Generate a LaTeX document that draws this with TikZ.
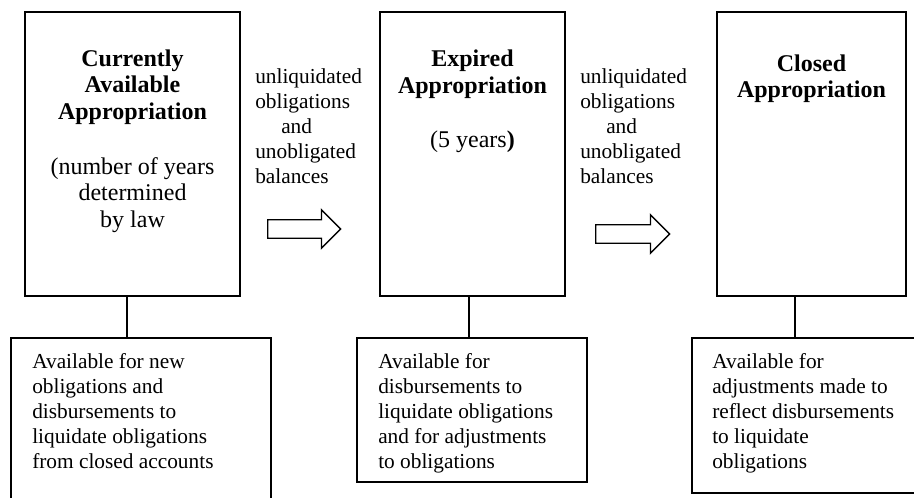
\documentclass[tikz,border=0pt]{standalone}
\usepackage{fontspec}
\setmainfont{Liberation Serif}
\usetikzlibrary{positioning,shapes.arrows}

\tikzset{
  approp/.style={draw, line width=1.3pt, minimum height=213pt, inner sep=0pt, outer sep=0pt},
  notebox/.style={draw, line width=1.3pt, inner sep=0pt, outer sep=0pt},
  title/.style={align=center, inner sep=0pt, font=\fontsize{18}{20}\selectfont},
  notetext/.style={align=left, inner sep=0pt, font=\fontsize{16}{18.75}\selectfont},
  flowlabel/.style={align=left, inner sep=0pt, font=\fontsize{16}{18.75}\selectfont},
  flowarrow/.style={single arrow, draw, line width=1pt, inner xsep=0pt, inner ysep=6.4pt,
    minimum width=27.75pt, single arrow head extend=7.5pt, single arrow tip angle=90, anchor=tail},
  link/.style={line width=1.3pt}
}

\begin{document}
\begin{tikzpicture}[x=0.75pt,y=-0.75pt]
\useasboundingbox (0,0) rectangle (914,498);
\clip (0,0) rectangle (914,498);

% the appropriation boxes
\node[approp, minimum width=161.25pt, anchor=north west] (box1) at (25,12) {};
\node[approp, minimum width=138.75pt, anchor=north west] (box2) at (380,12) {};
\node[approp, minimum width=141.75pt, anchor=north west] (box3) at (717,12) {};

\node[title, below=28pt of box1.north] (title1)
  {\textbf{Currently}\\\textbf{Available}\\\textbf{Appropriation}\\[21pt](number of years\\determined\\by law};
\node[title, below=28.3pt of box2.north] (title2)
  {\textbf{Expired}\\\textbf{Appropriation}\\[21pt](5 years\textbf{)}};
\node[title, below=31.8pt of box3.north] (title3)
  {\textbf{Closed}\\\textbf{Appropriation}};

% the transfers
\node[flowlabel, anchor=north west] (lab1) at (255,68.4)
  {unliquidated\\obligations\\\hspace*{19.5pt}and\\unobligated\\balances};
\node[flowlabel, anchor=north west] (lab2) at (580,68.4)
  {unliquidated\\obligations\\\hspace*{19.5pt}and\\unobligated\\balances};
\node[flowarrow, minimum height=54.75pt] (arrow1) at (267,229) {};
\node[flowarrow, minimum height=55.5pt] (arrow2) at (595,234) {};

% what each one is available for
\node[notebox, minimum width=195pt, minimum height=127pt, anchor=north west] (note1) at (11,338) {};
\node[notebox, minimum width=172.5pt, minimum height=108pt, anchor=north west] (note2) at (357,338) {};
\node[notebox, minimum width=172.5pt, minimum height=116.25pt, anchor=north west] (note3) at (692,338) {};

\node[notetext, below right=11.5pt and 15.75pt of note1.north west] (text1)
  {Available for new\\obligations and\\disbursements to\\liquidate obligations\\from closed accounts};
\node[notetext, below right=11.5pt and 15.75pt of note2.north west] (text2)
  {Available for\\disbursements to\\liquidate obligations\\and for adjustments\\to obligations};
\node[notetext, below right=11.5pt and 15pt of note3.north west] (text3)
  {Available for\\adjustments made to\\reflect disbursements\\to liquidate\\obligations};

% links
\coordinate (c1) at ([xshift=-4.1pt]box1.south);
\coordinate (c2) at ([xshift=-2.6pt]box2.south);
\coordinate (c3) at ([xshift=-12.4pt]box3.south);
\draw[link] (c1) -- (c1 |- note1.north);
\draw[link] (c2) -- (c2 |- note2.north);
\draw[link] (c3) -- (c3 |- note3.north);
\end{tikzpicture}
\end{document}
